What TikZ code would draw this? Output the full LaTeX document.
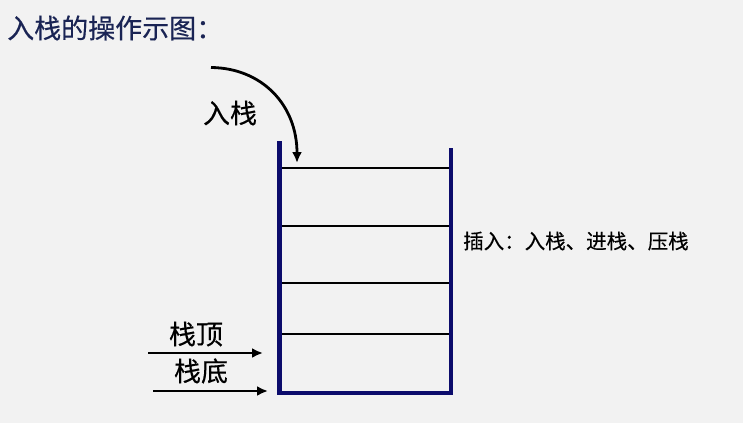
\documentclass[tikz,border=0pt]{standalone}
\usepackage{fontspec}
\setmainfont{Noto Sans CJK SC}[FakeBold=0.35]
\usetikzlibrary{arrows.meta}
\definecolor{bgcol}{HTML}{F2F2F2}
\definecolor{navy}{HTML}{0C0C6C}
\definecolor{titlecol}{HTML}{1A2454}
\begin{document}
\begin{tikzpicture}[x=1pt, y=-1pt,
    wall/.style={draw=navy, line width=4.5pt, line cap=rect},
    slot/.style={draw=black, line width=1.4pt},
    pointer/.style={draw=black, line width=2.8pt, -{Latex[length=11pt, width=10pt]}},
    lab/.style={inner sep=0pt, font=\fontsize{27}{30}\selectfont}]
  \fill[bgcol] (0,0) rectangle (743,423);
  \useasboundingbox (0,0) rectangle (743,423);
  \node[lab, anchor=west, text=titlecol] (title) at (7,28) {入栈的操作示图：};
  \coordinate (lt) at (279.5,143);
  \coordinate (lb) at (279.5,393);
  \coordinate (rb) at (451,393);
  \coordinate (rt) at (451,150);
  \foreach \y/\nm in {168/a, 226/b, 283/c, 334/d} {
    \coordinate (\nm l) at (280,\y);
    \coordinate (\nm r) at (450,\y);
    \draw[slot] (\nm l) -- (\nm r);
  }
  \draw[wall] (lt) -- (lb) -- (rb) -- (rt);
  \node[lab] (push) at (230,113) {入栈};
  \coordinate (pushfrom) at (211,67.5);
  \coordinate (pushto) at (297,163);
  \draw[pointer] (pushfrom) .. controls (262,68) and (297,105) .. (pushto);
  \node[lab] (top) at (196,334) {栈顶};
  \coordinate (topfrom) at (148,353);
  \coordinate (topto) at (263,353);
  \draw[pointer] (topfrom) -- (topto);
  \node[lab] (bottom) at (201,371) {栈底};
  \coordinate (botfrom) at (153,391);
  \coordinate (botto) at (268,391);
  \draw[pointer] (botfrom) -- (botto);
  \node[inner sep=0pt, anchor=west, font=\fontsize{20.5}{24}\selectfont] (note) at (463,241) {插入：入栈、进栈、压栈};
\end{tikzpicture}
\end{document}
